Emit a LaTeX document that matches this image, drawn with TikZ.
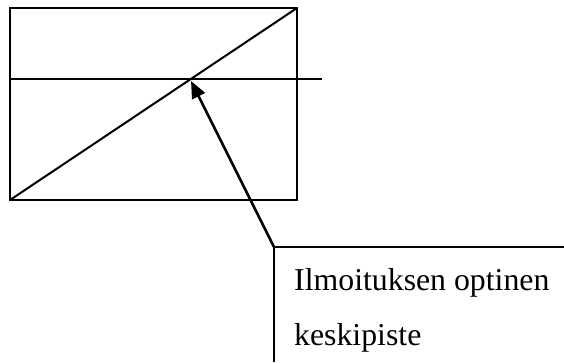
\documentclass[tikz,border=0pt]{standalone}
\usepackage{fontspec}
\setmainfont{Liberation Serif}
\usetikzlibrary{arrows.meta}
\begin{document}
\begin{tikzpicture}[x=1pt,y=1pt,
  thinline/.style={line width=2pt,line cap=butt},
  pointer/.style={line width=2.6pt,-{Triangle[length=17pt,width=14pt]}},
  label/.style={anchor=base west,inner sep=0pt,font=\fontsize{31.8}{38}\selectfont}]
\useasboundingbox (0,0) rectangle (564,362);
% rectangle corners (y measured upward: y = 362 - pixel row)
\coordinate (bl) at (10,162);
\coordinate (tr) at (297,354);
\coordinate (hl) at (10,282.5);
\coordinate (hr) at (322,282.5);
\coordinate (tip) at (191,281);
\coordinate (kink) at (274,115);
\coordinate (cr) at (564,115);
\coordinate (cb) at (274,0);
\draw[thinline] (bl) rectangle (tr);
\draw[thinline] (bl) -- (tr);
\draw[thinline] (hl) -- (hr);
\draw[pointer] (kink) -- (tip);
\draw[thinline] (cb) -- (kink) -- (cr);
\node[label] (t1) at (294,72) {Ilmoituksen optinen};
\node[label] (t2) at (294,17) {keskipiste};
\end{tikzpicture}
\end{document}
